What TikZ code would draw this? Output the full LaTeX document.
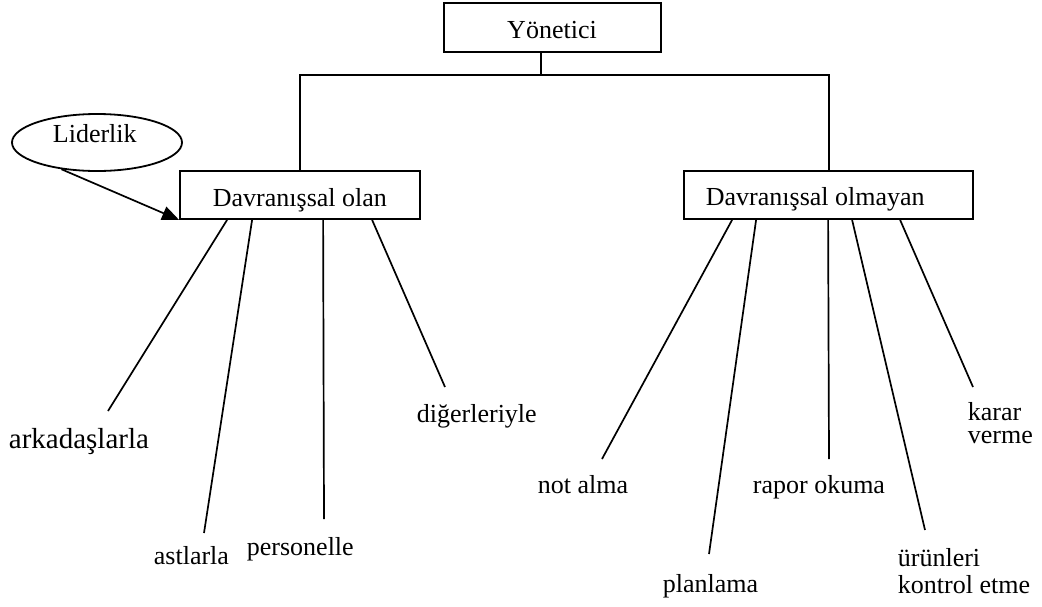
\documentclass[tikz,border=0pt]{standalone}
\usepackage{fontspec}
\setmainfont{Liberation Serif}
\usetikzlibrary{arrows.meta,calc,shapes.geometric}
\begin{document}
\begin{tikzpicture}[x=1pt,y=-1pt,
  line width=1.8pt,
  frame/.style={draw, rectangle, inner sep=0pt},
  oval/.style={draw, ellipse, inner sep=0pt, minimum width=170pt, minimum height=57pt},
  txt/.style={inner sep=0pt, font=\fontsize{26}{30}\selectfont, anchor=base west},
  branch/.style={line width=1.7pt},
  influence/.style={line width=1.7pt, -{Triangle[length=17pt,width=14pt]}}
]
\useasboundingbox (0,0) rectangle (1042,606);

% boxes and their captions
\node[frame, minimum width=217pt, minimum height=49pt] (top) at (552.5,27.5) {};
\node[txt, anchor=base] (topt) at (552,38) {Yönetici};
\node[frame, minimum width=240pt, minimum height=48pt] (dl) at (300,195) {};
\node[txt] (dlt) at (212,206) {Davranışsal olan};
\node[frame, minimum width=289pt, minimum height=48pt] (dr) at (828.5,195) {};
\node[txt] (drt) at (705,205) {Davranışsal olmayan};
\node[oval] (lid) at (97,142.5) {};
\node[txt] (lidt) at (52,142) {Liderlik};

% tree connectors
\coordinate (hub) at (541,75);
\coordinate (hr) at (829,75);
\draw (top.south -| hub) -- (hub);
\draw (dl.north) |- (hr) -- (dr.north -| hr);

% leadership influence
\draw[influence] (lid.217) -- (dl.south west);

% behavioural activities
\coordinate (a1) at (108,411);
\coordinate (a2) at (204,533);
\coordinate (a3) at (324,519);
\coordinate (a4) at (445,387);
\draw[branch] ($(dl.south west)+(48,0)$) -- (a1);
\draw[branch] ($(dl.south west)+(73,0)$) -- (a2);
\draw[branch] ($(dl.south west)+(144,0)$) -- (a3);
\draw[branch] ($(dl.south west)+(193,0)$) -- (a4);

\node[txt, font=\fontsize{29}{33}\selectfont] (arkadaslarla) at (8,448) {arkadaşlarla};
\node[txt] (astlarla) at (153,564) {astlarla};
\node[txt] (personelle) at (246,555) {personelle};
\node[txt] (digerleriyle) at (416,422) {diğerleriyle};

% non-behavioural activities
\coordinate (b1) at (602,459);
\coordinate (b2) at (709,554);
\coordinate (b3) at (829,459);
\coordinate (b4) at (925,530);
\coordinate (b5) at (973,387);
\draw[branch] ($(dr.south west)+(49,0)$) -- (b1);
\draw[branch] ($(dr.south west)+(73,0)$) -- (b2);
\draw[branch] ($(dr.south west)+(145,0)$) -- (b3);
\draw[branch] ($(dr.south west)+(169,0)$) -- (b4);
\draw[branch] ($(dr.south west)+(217,0)$) -- (b5);

\node[txt] (notalma) at (537,493) {not alma};
\node[txt] (planlama) at (662,592) {planlama};
\node[txt] (rapor) at (752,493) {rapor okuma};
% two-line captions: the base anchor sits on the last line
\node[txt, align=left, font=\fontsize{26}{27}\selectfont] (urunler) at (897,593) {ürünleri\\kontrol etme};
\node[txt, align=left, font=\fontsize{26}{23}\selectfont] (karar) at (967,443) {karar\\verme};
\end{tikzpicture}
\end{document}
